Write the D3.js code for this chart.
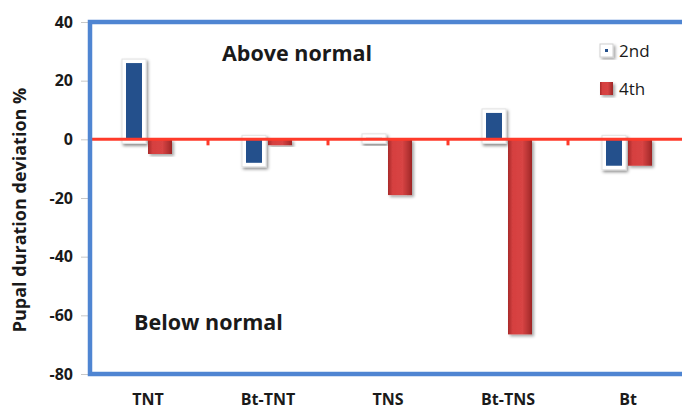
<!DOCTYPE html>
<html>
<head>
<meta charset="utf-8">
<script src="https://cdn.jsdelivr.net/npm/d3@7"></script>
<style>
  html, body { margin: 0; padding: 0; background: #fff; }
  svg { display: block; font-family: "Open Sans", "DejaVu Sans", sans-serif; }
</style>
</head>
<body>
<svg id="chart" width="682" height="409"></svg>
<script>
// Pupal duration deviation (%) by treatment, for 2nd and 4th instar
const categories = ["TNT", "Bt-TNT", "TNS", "Bt-TNS", "Bt"];
const seriesNames = ["2nd", "4th"];
const values2nd = [26, -8, 0.5, 9, -9];
const values4th = [-5, -2, -19, -66.5, -9];
const yTicks = [40, 20, 0, -20, -40, -60, -80];

const svg = d3.select("#chart");
const W = 682, H = 409;
const plot = { left: 90, top: 22, right: 690, bottom: 374 };

const y = d3.scaleLinear().domain([-80, 40]).range([plot.bottom, plot.top]);
const x = d3.scaleBand().domain(categories).range([88, 688]).padding(0);
const xs = d3.scaleBand().domain(seriesNames).range([0, 48]);
const groupOffset = (x.bandwidth() - 48) / 2;

const defs = svg.append("defs");
// soft grey drop shadow behind bars
const sh = defs.append("filter").attr("id", "shadow")
  .attr("x", "-40%").attr("y", "-20%").attr("width", "180%").attr("height", "140%");
sh.append("feDropShadow").attr("dx", 2).attr("dy", 2).attr("stdDeviation", 1.8)
  .attr("flood-color", "#000").attr("flood-opacity", 0.35);
const sh2 = defs.append("filter").attr("id", "glow")
  .attr("x", "-40%").attr("y", "-20%").attr("width", "180%").attr("height", "140%");
sh2.append("feDropShadow").attr("dx", 1.5).attr("dy", 2).attr("stdDeviation", 1.5)
  .attr("flood-color", "#000").attr("flood-opacity", 0.45);

// bevelled red fill
const rg = defs.append("linearGradient").attr("id", "redGrad")
  .attr("x1", "0").attr("x2", "1").attr("y1", "0").attr("y2", "0");
rg.append("stop").attr("offset", "0%").attr("stop-color", "#a82a2a");
rg.append("stop").attr("offset", "20%").attr("stop-color", "#d64040");
rg.append("stop").attr("offset", "60%").attr("stop-color", "#d84444");
rg.append("stop").attr("offset", "100%").attr("stop-color", "#9e2626");

// y axis
const yAxis = d3.axisLeft(y).tickValues(yTicks).tickSize(7).tickPadding(8)
  .tickFormat(d => String(d));
const gy = svg.append("g").attr("transform", `translate(${plot.left - 2},0)`).call(yAxis);
gy.select(".domain").remove();
gy.selectAll(".tick line").attr("stroke", "#c8c8c8").attr("stroke-width", 1);
gy.selectAll(".tick text").attr("fill", "#1a1a1a").attr("font-size", 16)
  .attr("font-weight", "bold").attr("font-family", "Open Sans");

// y title
svg.append("text")
  .attr("transform", `translate(26,${(plot.top + plot.bottom) / 2 + 12}) rotate(-90)`)
  .attr("text-anchor", "middle").attr("font-size", 18).attr("font-weight", "bold")
  .attr("fill", "#1a1a1a").text("Pupal duration deviation %");

// bars
const rows = categories.map((c, i) => ({ cat: c, vals: [values2nd[i], values4th[i]] }));
const groups = svg.append("g").selectAll("g").data(rows).join("g")
  .attr("transform", d => `translate(${x(d.cat) + groupOffset},0)`);

// 2nd instar: dark blue bar inside a white frame
const pad = 4;
groups.append("rect")
  .attr("x", xs("2nd") - 2)
  .attr("y", d => y(Math.max(0, d.vals[0])) - pad)
  .attr("width", xs.bandwidth() + 0)
  .attr("height", d => Math.abs(y(d.vals[0]) - y(0)) + pad * 2)
  .attr("fill", "#fff").attr("stroke", "#e2e2e2").attr("stroke-width", 1)
  .attr("filter", "url(#glow)");
groups.append("rect")
  .attr("x", xs("2nd") + pad - 2)
  .attr("y", d => y(Math.max(0, d.vals[0])))
  .attr("width", xs.bandwidth() - pad * 2)
  .attr("height", d => Math.abs(y(d.vals[0]) - y(0)))
  .attr("fill", "#24508c");

// 4th instar: bevelled red bar
groups.append("rect")
  .attr("x", xs("4th"))
  .attr("y", d => y(Math.max(0, d.vals[1])))
  .attr("width", xs.bandwidth())
  .attr("height", d => Math.abs(y(d.vals[1]) - y(0)))
  .attr("fill", "url(#redGrad)")
  .attr("filter", "url(#shadow)");

// zero line with category separators
svg.append("line").attr("x1", plot.left).attr("x2", W)
  .attr("y1", y(0)).attr("y2", y(0))
  .attr("stroke", "#ff3a2a").attr("stroke-width", 3);
svg.append("g").selectAll("line").data(categories.slice(1)).join("line")
  .attr("x1", d => x(d)).attr("x2", d => x(d))
  .attr("y1", y(0)).attr("y2", y(0) + 6)
  .attr("stroke", "#ff3a2a").attr("stroke-width", 3);

// plot frame
svg.append("rect").attr("x", plot.left).attr("y", plot.top)
  .attr("width", plot.right - plot.left).attr("height", plot.bottom - plot.top)
  .attr("fill", "none").attr("stroke", "#4f85d2").attr("stroke-width", 4.5);

// x labels
svg.append("g").selectAll("text").data(categories).join("text")
  .attr("x", d => x(d) + x.bandwidth() / 2).attr("y", 405)
  .attr("text-anchor", "middle").attr("font-size", 16).attr("font-weight", "bold")
  .attr("fill", "#1a1a1a").text(d => d);

// region annotations
svg.append("text").attr("x", 222).attr("y", 61).attr("font-size", 21.5)
  .attr("font-weight", "bold").attr("fill", "#1a1a1a").text("Above normal");
svg.append("text").attr("x", 134).attr("y", 330).attr("font-size", 21.5)
  .attr("font-weight", "bold").attr("fill", "#1a1a1a").text("Below normal");

// legend
const lg = svg.append("g");
lg.append("rect").attr("x", 600).attr("y", 44).attr("width", 13).attr("height", 13)
  .attr("fill", "#fff").attr("stroke", "#d0d0d0").attr("stroke-width", 1)
  .attr("filter", "url(#shadow)");
lg.append("rect").attr("x", 605).attr("y", 49).attr("width", 3).attr("height", 3)
  .attr("fill", "#24508c");
lg.append("text").attr("x", 619).attr("y", 57).attr("font-size", 17)
  .attr("fill", "#1a1a1a").text("2nd");
lg.append("rect").attr("x", 600).attr("y", 82).attr("width", 13).attr("height", 13)
  .attr("fill", "url(#redGrad)").attr("filter", "url(#shadow)");
lg.append("text").attr("x", 619).attr("y", 95).attr("font-size", 17)
  .attr("fill", "#1a1a1a").text("4th");
</script>
</body>
</html>
